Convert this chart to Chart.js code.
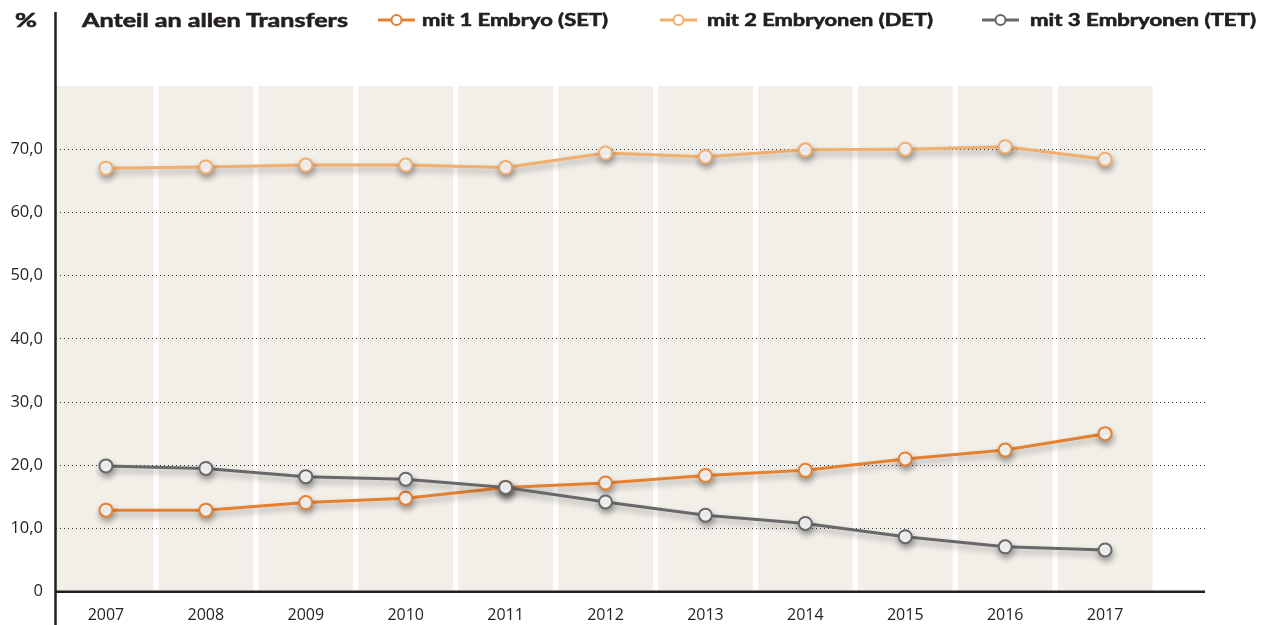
<!DOCTYPE html>
<html><head><meta charset="utf-8">
<script src="https://cdn.jsdelivr.net/npm/chart.js@4"></script>
<style>
html,body{margin:0;padding:0;background:#fff;}
#wrap{position:relative;width:1263px;height:625px;overflow:hidden;}
#c{position:absolute;left:0;top:0;}
.t{position:absolute;white-space:nowrap;color:#231F20;font-family:Lato,sans-serif;font-weight:700;line-height:1;transform-origin:0 0;-webkit-text-stroke:0.6px #231F20;}
.m{position:absolute;}
</style></head>
<body>
<div id="wrap">
<canvas id="c" width="1263" height="625"></canvas>
<div class="t" id="pct" style="left:15px;top:10px;font-size:19px;" data-w="22">%</div>
<div class="t" id="ttl" style="left:82px;top:10px;font-size:19px;" data-w="266">Anteil an allen Transfers</div>
<svg class="m" style="left:378px;top:13px" width="37" height="14"><line x1="0" y1="7" x2="37" y2="7" stroke="#E6802F" stroke-width="3"/><circle cx="18.5" cy="7" r="5" fill="#fff" stroke="#E6802F" stroke-width="2"/></svg>
<div class="t" style="left:422px;top:12px;font-size:16.5px;" data-w="186">mit 1 Embryo (SET)</div>
<svg class="m" style="left:660px;top:13px" width="37" height="14"><line x1="0" y1="7" x2="37" y2="7" stroke="#F2AE6C" stroke-width="3"/><circle cx="18.5" cy="7" r="5" fill="#fff" stroke="#F2AE6C" stroke-width="2"/></svg>
<div class="t" style="left:707px;top:12px;font-size:16.5px;" data-w="226">mit 2 Embryonen (DET)</div>
<svg class="m" style="left:982px;top:13px" width="37" height="14"><line x1="0" y1="7" x2="37" y2="7" stroke="#68686B" stroke-width="3"/><circle cx="18.5" cy="7" r="5" fill="#fff" stroke="#68686B" stroke-width="2"/></svg>
<div class="t" style="left:1030px;top:12px;font-size:16.5px;" data-w="226">mit 3 Embryonen (TET)</div>
</div>
<script>
// ---- data ----
const years = [2007, 2008, 2009, 2010, 2011, 2012, 2013, 2014, 2015, 2016, 2017];
const setValues = [12.9, 12.9, 14.1, 14.8, 16.5, 17.2, 18.4, 19.2, 21.0, 22.4, 25.0];
const detValues = [67.0, 67.2, 67.5, 67.5, 67.1, 69.4, 68.8, 69.9, 70.0, 70.4, 68.4];
const tetValues = [19.9, 19.5, 18.2, 17.8, 16.5, 14.2, 12.1, 10.8, 8.7, 7.1, 6.6];
const yTicks = [0, 10, 20, 30, 40, 50, 60, 70];
const seriesNames = ['mit 1 Embryo (SET)', 'mit 2 Embryonen (DET)', 'mit 3 Embryonen (TET)'];

// fit legend/title text widths
document.querySelectorAll('.t[data-w]').forEach(el => {
  const w = parseFloat(el.dataset.w);
  const s = w / el.getBoundingClientRect().width;
  el.style.transform = 'scaleX(' + s + ')';
});

const toPts = arr => arr.map((v, i) => ({x: years[i], y: v}));

const bandPlugin = {
  id: 'bands',
  beforeDraw(chart) {
    const {ctx, chartArea: a, scales: {x}} = chart;
    ctx.save();
    ctx.fillStyle = '#F2EFE9';
    years.forEach((yr, i) => {
      let l = x.getPixelForValue(yr - 0.5);
      let r = x.getPixelForValue(yr + 0.5) - 2.5;
      if (i > 0) l += 2.5;
      ctx.fillRect(l, a.top, r - l, a.bottom - a.top);
    });
    ctx.restore();
  }
};
const shadowPlugin = {
  id: 'shadow',
  beforeDatasetDraw(chart) {
    const c = chart.ctx;
    c.save();
    c.shadowColor = 'rgba(0,0,0,0.32)';
    c.shadowBlur = 6;
    c.shadowOffsetX = 1;
    c.shadowOffsetY = 4;
  },
  afterDatasetDraw(chart) { chart.ctx.restore(); }
};
const axesPlugin = {
  id: 'axesLines',
  afterDraw(chart) {
    const {ctx, chartArea: a} = chart;
    ctx.save();
    ctx.strokeStyle = '#231F20';
    ctx.lineWidth = 2.5;
    ctx.beginPath();
    ctx.moveTo(a.left - 0.5, 12);
    ctx.lineTo(a.left - 0.5, 625);
    ctx.moveTo(a.left - 1.5, a.bottom);
    ctx.lineTo(a.right, a.bottom);
    ctx.stroke();
    ctx.restore();
  }
};

const mk = (label, data, color, order) => ({
  label, data: toPts(data), borderColor: color, backgroundColor: color,
  borderWidth: 3, pointRadius: 6.5, pointBorderWidth: 2,
  pointBackgroundColor: '#fff', pointBorderColor: color,
  tension: 0, order
});

new Chart(document.getElementById('c'), {
  type: 'line',
  data: {
    datasets: [
      mk(seriesNames[0], setValues, '#E6802F', 1),
      mk(seriesNames[1], detValues, '#F2AE6C', 2),
      mk(seriesNames[2], tetValues, '#68686B', 0)
    ]
  },
  options: {
    responsive: false, animation: false, devicePixelRatio: 1,
    layout: {padding: {left: 0, right: 58, top: 86, bottom: 0}},
    plugins: {legend: {display: false}, title: {display: false}, tooltip: {enabled: false}},
    scales: {
      x: {
        type: 'linear', min: 2006.5, max: 2018,
        afterBuildTicks: s => { s.ticks = years.map(v => ({value: v})); },
        afterFit: s => { s.height = 33.3; },
        grid: {display: false, drawTicks: false},
        border: {display: false},
        ticks: {padding: 14, color: '#231F20', font: {family: 'Open Sans', size: 16},
          callback: v => String(v), autoSkip: false, maxRotation: 0}
      },
      y: {
        type: 'linear', min: 0, max: 80,
        afterBuildTicks: s => { s.ticks = yTicks.map(v => ({value: v})); },
        afterFit: s => { s.width = 56; },
        grid: {drawTicks: false, lineWidth: 1,
          color: c => (c.tick && c.tick.value === 0) ? 'rgba(0,0,0,0)' : '#333'},
        border: {display: false, dash: [1, 3]},
        ticks: {padding: 13, color: '#231F20', font: {family: 'Open Sans', size: 16.5},
          callback: v => v === 0 ? '0' : v.toFixed(1).replace('.', ',')}
      }
    }
  },
  plugins: [bandPlugin, shadowPlugin, axesPlugin]
});
</script>
</body></html>
